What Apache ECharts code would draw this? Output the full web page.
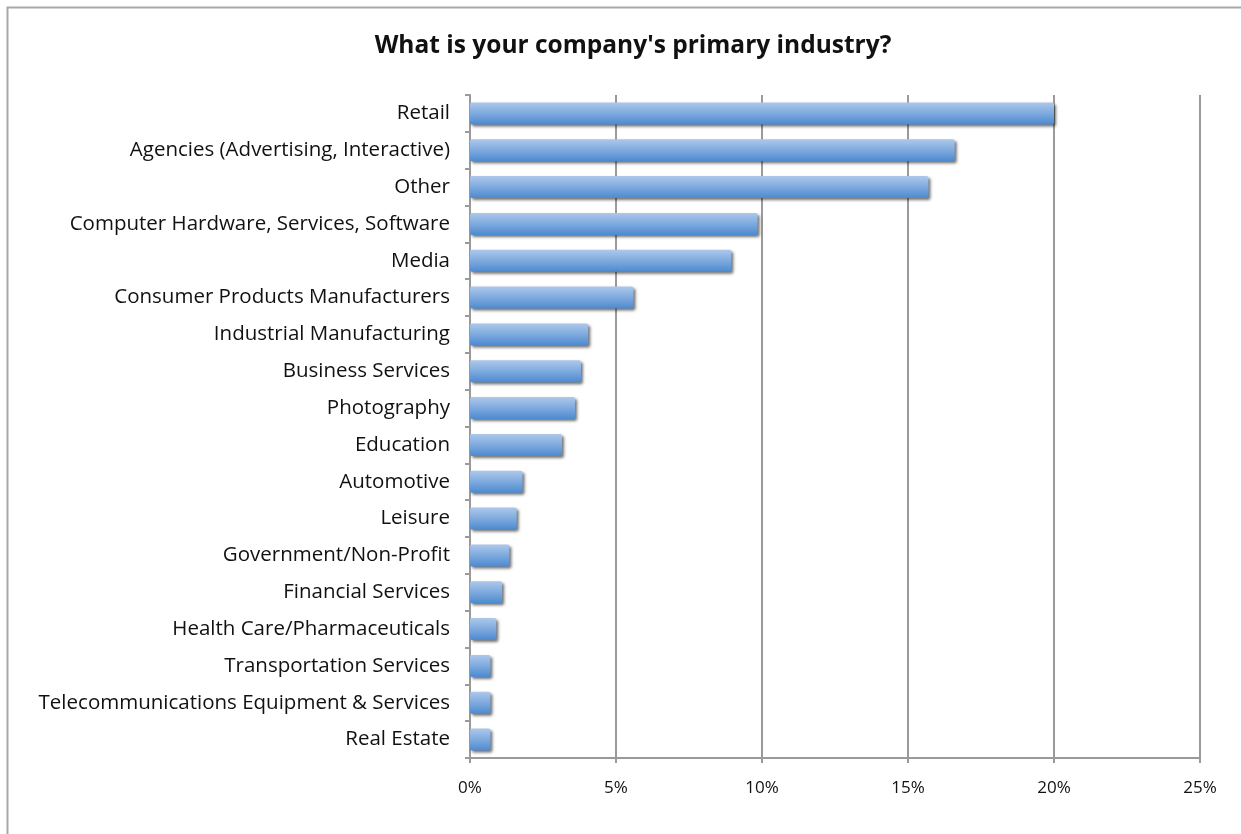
<!DOCTYPE html>
<html>
<head>
<meta charset="utf-8">
<script src="https://cdn.jsdelivr.net/npm/echarts@6/dist/echarts.min.js"></script>
<style>
  html, body { margin: 0; padding: 0; background: #ffffff; }
  #chart { width: 1241px; height: 834px; }
</style>
</head>
<body>
<div id="chart"></div>
<script>
// Survey answers, listed top to bottom
const industries = [
  'Retail',
  'Agencies (Advertising, Interactive)',
  'Other',
  'Computer Hardware, Services, Software',
  'Media',
  'Consumer Products Manufacturers',
  'Industrial Manufacturing',
  'Business Services',
  'Photography',
  'Education',
  'Automotive',
  'Leisure',
  'Government/Non-Profit',
  'Financial Services',
  'Health Care/Pharmaceuticals',
  'Transportation Services',
  'Telecommunications Equipment & Services',
  'Real Estate'
];
// Share of respondents, in percent
const shares = [20.0, 16.6, 15.7, 9.85, 8.95, 5.6, 4.05, 3.8, 3.6, 3.15, 1.8, 1.6, 1.35, 1.1, 0.9, 0.7, 0.7, 0.7];
const axisTicks = [0, 5, 10, 15, 20, 25];

const chart = echarts.init(document.getElementById('chart'));
const gray = '#9a9a9a';
const font = '"Open Sans", "Noto Sans", sans-serif';

chart.setOption({
  animation: false,
  graphic: [{
    type: 'rect',
    shape: { x: 7.5, y: 7.5, width: 1300, height: 900 },
    style: { fill: 'none', stroke: '#a8a8a8', lineWidth: 2 },
    silent: true
  }],
  title: {
    text: "What is your company's primary industry?",
    left: 628, top: 29, textAlign: 'center',
    textStyle: { fontFamily: font, fontWeight: 'bold', fontSize: 24.5, color: '#111' }
  },
  grid: { left: 470, right: 41, top: 95, bottom: 76, containLabel: false },
  xAxis: {
    type: 'value',
    min: axisTicks[0], max: axisTicks[axisTicks.length - 1], interval: 5,
    axisLine: { show: true, lineStyle: { color: gray, width: 2 } },
    axisTick: { show: true, length: 5, lineStyle: { color: gray, width: 2 } },
    splitLine: { show: true, lineStyle: { color: gray, width: 2 } },
    axisLabel: {
      margin: 22, formatter: v => v + '%',
      fontFamily: font, fontSize: 17, color: '#111'
    }
  },
  yAxis: {
    type: 'category',
    inverse: true,
    data: industries,
    axisLine: { show: true, lineStyle: { color: gray, width: 2 } },
    axisTick: { show: true, length: 5, lineStyle: { color: gray, width: 2 } },
    axisLabel: { margin: 20, fontFamily: font, fontSize: 20.5, color: '#111' }
  },
  series: [{
    type: 'bar',
    data: shares,
    barWidth: 22,
    itemStyle: {
      borderRadius: 2,
      color: new echarts.graphic.LinearGradient(0, 0, 0, 1, [
        { offset: 0, color: '#adc8eb' },
        { offset: 0.5, color: '#7eaade' },
        { offset: 1, color: '#4d8acf' }
      ]),
      shadowColor: 'rgba(0,0,0,0.55)',
      shadowBlur: 3,
      shadowOffsetX: 2,
      shadowOffsetY: 2
    }
  }]
});
</script>
</body>
</html>
